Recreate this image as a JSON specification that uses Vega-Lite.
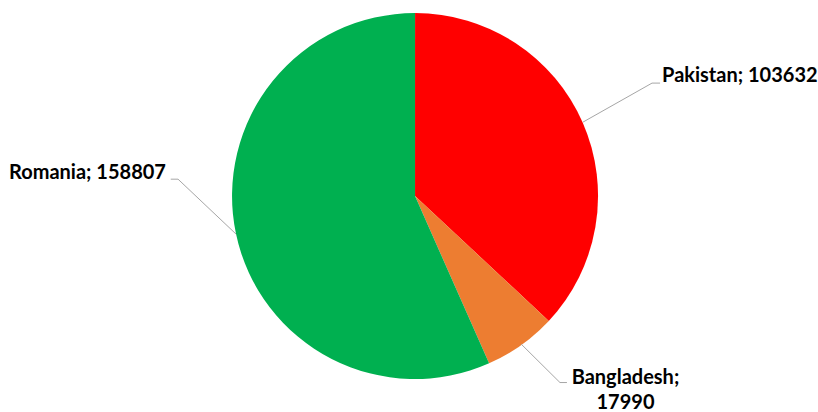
{
  "$schema": "https://vega.github.io/schema/vega-lite/v6.json",
  "width": 818,
  "height": 412,
  "padding": 0,
  "autosize": {"type": "none"},
  "background": "white",
  "config": {"view": {"stroke": null}},
  "resolve": {"scale": {"x": "shared", "y": "shared"}},
  "layer": [
    {
      "data": {"values": [
        {"country": "Pakistan", "value": 103632, "ord": 1, "cx": 0, "cy": 0},
        {"country": "Bangladesh", "value": 17990, "ord": 2, "cx": 0, "cy": 0},
        {"country": "Romania", "value": 158807, "ord": 3, "cx": 0, "cy": 0}
      ]},
      "mark": {"type": "arc", "outerRadius": 183},
      "encoding": {
        "theta": {"field": "value", "type": "quantitative", "stack": true},
        "order": {"field": "ord", "type": "quantitative"},
        "color": {"field": "country", "type": "nominal", "legend": null,
          "scale": {"domain": ["Pakistan", "Bangladesh", "Romania"], "range": ["#FF0000", "#ED7D31", "#00B050"]}},
        "x": {"field": "cx", "type": "quantitative", "axis": null, "scale": {"domain": [-2.268, 2.202], "zero": false, "nice": false}},
        "y": {"field": "cy", "type": "quantitative", "axis": null, "scale": {"domain": [-1.180, 1.071], "zero": false, "nice": false}}
      }
    },
    {
      "data": {"values": [
        {"country": "Pakistan", "seq": 1, "px": 0.918, "py": 0.404},
        {"country": "Pakistan", "seq": 2, "px": 1.295, "py": 0.617},
        {"country": "Pakistan", "seq": 3, "px": 1.339, "py": 0.617},
        {"country": "Romania", "seq": 1, "px": -0.978, "py": -0.208},
        {"country": "Romania", "seq": 2, "px": -1.295, "py": 0.092},
        {"country": "Romania", "seq": 3, "px": -1.335, "py": 0.092},
        {"country": "Bangladesh", "seq": 1, "px": 0.58, "py": -0.809},
        {"country": "Bangladesh", "seq": 2, "px": 0.792, "py": -1.019},
        {"country": "Bangladesh", "seq": 3, "px": 0.83, "py": -1.019}
      ]},
      "mark": {"type": "line", "color": "#A6A6A6", "strokeWidth": 1},
      "encoding": {
        "x": {"field": "px", "type": "quantitative", "axis": null},
        "y": {"field": "py", "type": "quantitative", "axis": null},
        "detail": {"field": "country"},
        "order": {"field": "seq", "type": "quantitative"}
      }
    },
    {
      "data": {"values": [
        {"label": "Pakistan; 103632", "lx": 1.35, "ly": 0.623}
      ]},
      "mark": {"type": "text", "align": "left", "baseline": "alphabetic", "font": "Lato", "fontWeight": "bold", "fontSize": 20, "color": "#000000"},
      "encoding": {
        "x": {"field": "lx", "type": "quantitative", "axis": null},
        "y": {"field": "ly", "type": "quantitative", "axis": null},
        "text": {"field": "label"}
      }
    },
    {
      "data": {"values": [
        {"label": "Romania; 158807", "lx": -1.361, "ly": 0.093}
      ]},
      "mark": {"type": "text", "align": "right", "baseline": "alphabetic", "font": "Lato", "fontWeight": "bold", "fontSize": 20, "color": "#000000"},
      "encoding": {
        "x": {"field": "lx", "type": "quantitative", "axis": null},
        "y": {"field": "ly", "type": "quantitative", "axis": null},
        "text": {"field": "label"}
      }
    },
    {
      "data": {"values": [
        {"label": "Bangladesh;\n17990", "lx": 1.15, "ly": -1.027}
      ]},
      "mark": {"type": "text", "align": "center", "baseline": "alphabetic", "lineBreak": "\n", "lineHeight": 25, "font": "Lato", "fontWeight": "bold", "fontSize": 20, "color": "#000000"},
      "encoding": {
        "x": {"field": "lx", "type": "quantitative", "axis": null},
        "y": {"field": "ly", "type": "quantitative", "axis": null},
        "text": {"field": "label"}
      }
    }
  ]
}
